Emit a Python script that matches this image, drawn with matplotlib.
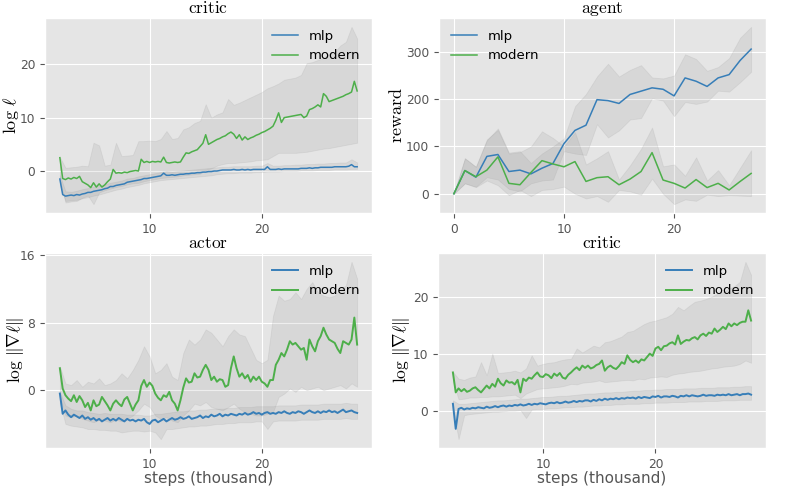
import numpy as np
import matplotlib
matplotlib.use("Agg")
import matplotlib.pyplot as plt

plt.style.use("ggplot")
plt.rcParams["mathtext.fontset"] = "cm"
plt.rcParams["font.family"] = ["DejaVu Sans"]

BLUE = "#377eb8"
GREEN = "#4daf4a"
BAND = "grey"

# ---------------- data ----------------
STEP_FINE = 0.25   # thousand steps between logged points
STEP_BAND = 0.5
X0 = 2.0

# critic loss (log l)
loss_modern = [
    2.5, -1.4, -1.6, -1.3,  -1.5, -1.2, -1.4, -1.0,  -2.0, -2.3, -2.6, -3.1,
    -2.2, -3.0, -2.4, -3.0,  -2.6, -2.0, -1.5, 0.3,  -0.4, -0.3, -0.4, -0.2,
    -0.3, -0.1, 0.0, 0.1,  0.0, 2.2, 1.6, 1.8,  1.6, 1.8, 1.7, 1.8,
    1.7, 2.6, 1.6, 1.5,  1.6, 1.7, 1.6, 1.7,  2.6, 3.4, 3.3, 3.6,
    3.8, 4.0, 4.6, 5.2,  6.8, 5.0, 5.3, 5.6,  5.9, 6.1, 6.4, 6.6,
    7.0, 7.3, 6.9, 6.1,  6.8, 5.8, 6.4, 5.9,  6.2, 6.4, 6.7, 6.9,
    7.2, 7.4, 7.7, 8.0,  8.4, 9.5, 10.9, 9.1,  10.0, 10.1, 10.2, 10.3,
    10.4, 10.5, 10.6, 10.0,  10.3, 11.5, 11.7, 12.0,  12.4, 12.0, 14.5, 14.0,
    13.0, 13.2, 13.4, 13.6,  13.8, 14.0, 14.3, 14.5,  14.8, 16.8, 15.0]
loss_mlp = [
    -1.5, -4.4, -4.7, -4.6,  -4.5, -4.6, -4.4, -4.5,  -4.3, -4.2, -4.0, -4.0,
    -3.8, -3.7, -3.6, -3.5,  -3.3, -3.2, -2.9, -2.9,  -2.7, -2.6, -2.5, -2.4,
    -2.1, -2.0, -1.9, -1.8,  -1.7, -1.6, -1.4, -1.4,  -1.3, -1.2, -1.1, -1.0,
    -0.9, -0.4, -0.8, -0.8,  -0.7, -0.8, -0.7, -0.6,  -0.6, -0.5, -0.5, -0.4,
    -0.4, -0.3, -0.3, -0.2,  -0.2, -0.1, -0.1, 0.0,  0.0, 0.1, 0.2, 0.2,
    0.2, 0.2, 0.3, 0.2,  0.2, 0.3, 0.2, 0.3,  0.2, 0.3, 0.3, 0.3,
    0.3, 0.3, 0.8, 0.3,  0.3, 0.3, 0.4, 0.3,  0.4, 0.4, 0.4, 0.4,
    0.4, 0.4, 0.5, 0.5,  0.5, 0.6, 0.5, 0.6,  0.6, 0.7, 0.7, 0.7,
    0.7, 0.7, 0.8, 0.8,  0.8, 0.8, 0.8, 0.9,  1.2, 0.8, 0.8]
loss_modern_hi = [
    2.6, 0.6, 0.7, 0.8, 1.0, 0.9, 5.3, 4.8, 1.0, 1.2, 5.3, 2.8, 2.9, 3.0,
    5.6, 5.6, 5.7, 5.6, 6.0, 7.5, 6.0, 6.2, 7.8, 8.2, 9.0, 9.4, 12.5, 10.0,
    10.6, 11.0, 13.5, 12.4, 12.8, 13.3, 13.8, 14.3, 14.8, 15.5, 15.9, 16.4,
    17.1, 17.3, 17.5, 18.0, 20.2, 20.4, 20.8, 21.2, 22.0, 22.3, 23.5, 24.2,
    27.0, 24.8]
loss_modern_lo = [
    -1.6, -5.9, -5.7, -5.6, -5.0, -4.6, -6.2, -4.0, -3.6, -3.3, -3.0, -2.8,
    -2.5, -2.3, -2.2, -1.9, -1.7, -1.5, -1.3, -1.2, -1.1, -1.0, -0.8, -0.7,
    -0.6, -0.5, 0.2, 0.5, 1.0, 1.3, 1.5, 1.5, 1.6, 1.7, 1.8, 2.0, 2.1, 2.2,
    2.8, 3.4, 3.4, 3.4, 3.4, 3.5, 3.6, 3.8, 4.0, 4.2, 4.3, 4.5, 4.7, 4.9,
    5.1, 5.3]
loss_mlp_hi = [
    -0.8, -3.8, -3.9, -3.7, -3.4, -3.2, -2.9, -2.8, -2.5, -2.2, -2.0, -1.8,
    -1.4, -1.3, -1.0, -0.8, -0.6, -0.4, -0.2, 0.0, -0.1, 0.0, 0.1, 0.2,
    0.3, 0.4, 0.5, 0.6, 0.7, 0.8, 0.8, 0.9, 0.9, 0.9, 0.9, 1.0, 1.0, 1.5,
    1.0, 1.0, 1.1, 1.1, 1.2, 1.2, 1.3, 1.3, 1.4, 1.4, 1.5, 1.5, 1.6, 1.6,
    2.2, 1.6]
loss_mlp_lo = [
    -2.5, -5.6, -5.5, -5.4, -5.1, -4.9, -4.6, -4.4, -4.1, -3.8, -3.5, -3.3,
    -3.0, -2.8, -2.6, -2.3, -2.1, -1.9, -1.7, -1.6, -1.5, -1.4, -1.3, -1.2,
    -1.1, -1.0, -0.9, -0.8, -0.6, -0.5, -0.4, -0.4, -0.3, -0.3, -0.3, -0.2,
    -0.2, -0.1, -0.1, -0.1, 0.0, 0.0, 0.0, 0.1, 0.1, 0.1, 0.2, 0.2, 0.2,
    0.3, 0.3, 0.3, 0.4, 0.4]

# agent reward
agent_step = list(range(28))
reward_mlp = [0, 49, 35, 79, 83, 47, 50, 42, 54, 64, 106, 134, 145, 199, 197,
              191, 210, 217, 224, 221, 207, 245, 238, 227, 245, 252, 282, 306]
reward_modern = [0, 49, 36, 50, 78, 22, 19, 45, 70, 63, 57, 68, 26, 34, 36,
                 19, 31, 47, 87, 29, 22, 12, 30, 13, 22, 8, 26, 43]
reward_mlp_hi = [0, 75, 57, 113, 138, 87, 90, 65, 85, 100, 117, 185, 211, 248,
                 275, 248, 262, 272, 246, 244, 250, 295, 285, 260, 268, 287,
                 330, 353]
reward_mlp_lo = [0, 22, 15, 35, 30, 10, 5, 22, 28, 30, 90, 85, 82, 147, 119,
                 134, 157, 160, 202, 197, 164, 194, 190, 195, 218, 216, 236,
                 258]
reward_modern_hi = [0, 75, 57, 115, 135, 85, 88, 100, 132, 118, 100, 130, 62,
                    75, 90, 30, 60, 95, 140, 58, 62, 38, 77, 28, 50, 18, 55, 92]
reward_modern_lo = [0, 22, 14, 28, 18, -3, 8, -5, 8, 10, 15, 0, -10, -5, -17,
                    8, 5, -2, 32, 0, -22, -12, -15, -2, -5, -3, -4, -5]

# actor gradient norm (log ||grad l||)
actor_modern = [
    2.6, 0.2, -0.6, -1.0,  -1.3, -0.6, -1.4, -0.7,  -1.2, -2.0, -1.5, -2.4,
    -1.2, -1.9, -1.7, -0.8,  -1.3, -1.8, -2.4, -1.6,  -1.2, -1.6, -1.9, -1.1,
    -0.8, -1.6, -2.4, -1.7,  -1.2, 0.5, 1.2, 0.4,  0.9, 0.5, -0.4, -0.9,
    -1.2, -0.6, -0.8, -0.2,  -1.2, -1.6, -2.4, -1.2,  0.3, 1.4, 0.9, 1.0,
    2.0, 1.5, 1.6, 2.4,  3.0, 2.4, 1.2, 1.6,  1.0, 1.3, 1.2, 0.4,
    0.6, 2.6, 4.0, 2.6,  1.6, 2.0, 1.4, 1.8,  1.0, 1.6, 1.2, 1.6,
    1.0, 0.8, 0.4, 1.2,  1.2, 3.0, 3.6, 4.4,  4.0, 4.8, 5.8, 5.4,
    5.6, 5.2, 4.8, 5.0,  3.6, 6.0, 5.2, 4.6,  5.8, 6.4, 7.4, 6.6,
    6.0, 5.8, 5.6, 4.9,  4.4, 5.8, 5.6, 5.4,  6.0, 8.6, 5.4]
actor_mlp = [
    -0.4, -2.8, -2.4, -2.9,  -3.2, -2.9, -3.1, -3.3,  -3.0, -3.4, -3.2, -3.5,
    -3.3, -3.6, -3.4, -3.7,  -3.5, -3.3, -3.6, -3.4,  -3.6, -3.3, -3.5, -3.7,
    -3.4, -3.6, -3.5, -3.7,  -3.5, -3.6, -3.4, -3.8,  -4.0, -3.6, -3.5, -3.8,
    -3.6, -3.4, -3.7, -3.5,  -3.3, -3.5, -3.4, -3.2,  -3.4, -3.3, -3.1, -3.4,
    -3.3, -3.2, -3.0, -3.3,  -3.1, -3.2, -2.9, -3.1,  -3.0, -2.8, -3.1, -2.9,
    -3.0, -2.8, -2.9, -3.0,  -2.8, -2.9, -2.7, -2.9,  -2.8, -2.6, -2.8, -2.7,
    -2.9, -2.7, -2.6, -2.8,  -2.7, -2.8, -2.6, -2.7,  -2.5, -2.7, -2.8, -2.6,
    -2.7, -2.5, -2.6, -2.8,  -2.6, -2.4, -2.6, -2.7,  -2.5, -2.7, -2.5, -2.6,
    -2.4, -2.6, -2.5, -2.7,  -2.5, -2.3, -2.6, -2.5,  -2.4, -2.6, -2.7]
actor_modern_hi = [
    2.8, 0.8, 0.6, 1.2, 0.4, 1.0, 0.8, 1.4, 0.6, 0.8, 1.2, 2.0, 1.4, 2.4,
    3.6, 5.2, 4.0, 2.0, 2.4, 3.2, 1.6, 1.2, 4.4, 6.0, 5.4, 6.0, 7.2, 6.8,
    6.0, 5.2, 6.4, 7.2, 6.6, 6.4, 5.0, 3.6, 3.2, 3.6, 8.8, 11.2, 10.6, 10.8,
    11.6, 10.8, 12.0, 12.8, 11.6, 11.2, 11.0, 11.2, 12.0, 12.4, 15.2, 13.2]
actor_modern_lo = [
    -0.8, -3.0, -3.2, -3.0, -3.4, -3.6, -3.8, -3.5, -3.6, -3.8, -3.5, -3.7,
    -3.4, -3.0, -2.4, -1.6, -2.0, -3.0, -3.4, -3.2, -3.6, -3.8, -3.0, -2.4,
    -1.6, -1.8, -1.4, -2.0, -2.2, -2.4, -2.0, -1.6, -2.2, -2.6, -2.8, -3.0,
    -3.0, -2.8, -2.6, -0.8, -0.4, 0.2, -0.2, 0.4, 0.0, 0.2, 0.4, 0.0,
    0.2, 0.4, 0.6, 0.2, 0.8, 0.4]
actor_mlp_hi = [
    -0.2, -1.8, -2.2, -2.4, -2.4, -2.6, -2.7, -2.8, -2.7, -2.8, -2.8, -2.8,
    -2.9, -2.9, -2.9, -3.0, -3.0, -2.8, -2.8, -2.7, -2.6, -2.5, -2.5, -2.4,
    -2.4, -2.3, -2.3, -2.2, -2.2, -2.2, -2.1, -2.1, -2.0, -2.0, -2.0, -1.9,
    -1.9, -1.9, -1.9, -1.8, -1.8, -1.8, -1.8, -1.7, -1.7, -1.7, -1.7, -1.6,
    -1.6, -1.6, -1.6, -1.5, -1.6, -1.6]
actor_mlp_lo = [
    -1.5, -4.0, -4.2, -4.3, -4.4, -4.6, -4.6, -4.7, -4.7, -4.8, -4.8, -5.0,
    -4.9, -4.8, -4.8, -4.9, -4.8, -5.0, -5.8, -4.6, -4.6, -4.5, -4.4, -4.3,
    -4.3, -4.2, -4.2, -4.1, -4.0, -4.0, -3.9, -3.9, -3.8, -3.8, -3.8, -3.7,
    -3.7, -4.6, -3.7, -3.6, -3.6, -3.6, -3.6, -3.5, -3.5, -3.5, -3.5, -3.4,
    -3.4, -3.4, -3.4, -3.3, -3.4, -3.4]

# critic gradient norm (log ||grad l||)
cgrad_modern = [
    6.7, 3.2, 3.9, 3.4,  3.8, 3.3, 3.5, 3.9,  4.1, 3.6, 3.2, 3.8,
    4.4, 3.9, 4.7, 4.2,  5.6, 4.8, 4.4, 5.3,  4.9, 5.0, 4.6, 5.4,
    3.2, 5.6, 5.2, 5.8,  5.6, 6.2, 6.7, 6.0,  5.9, 6.4, 6.2, 5.7,
    6.5, 6.1, 6.6, 5.8,  5.6, 6.3, 6.7, 7.2,  7.6, 7.1, 7.9, 7.5,
    7.9, 7.4, 7.6, 8.0,  8.2, 8.8, 7.0, 7.6,  7.9, 7.5, 7.3, 7.8,
    8.5, 8.2, 9.7, 8.9,  8.5, 8.8, 8.4, 9.0,  8.8, 9.4, 10.0, 9.6,
    10.9, 11.2, 10.6, 11.3,  11.4, 11.8, 12.0, 11.6,  13.2, 11.7, 12.1, 12.4,
    12.3, 12.7, 12.9, 12.5,  13.2, 13.5, 13.1, 13.7,  13.5, 14.4, 13.8, 14.2,
    14.7, 14.3, 15.3, 14.8,  15.3, 15.0, 15.4, 15.6,  15.6, 17.6, 15.8]
cgrad_mlp = [
    1.2, -3.2, 0.3, 0.5,  0.2, 0.4, 0.3, 0.5,  0.4, 0.6, 0.5, 0.4,
    0.7, 0.5, 0.6, 0.8,  0.6, 0.8, 0.9, 0.7,  0.9, 0.8, 1.0, 0.9,
    1.1, 0.9, 1.0, 1.2,  1.0, 1.2, 1.1, 1.3,  1.2, 1.1, 1.3, 1.4,
    1.3, 1.5, 1.3, 1.4,  1.6, 1.4, 1.5, 1.7,  1.5, 1.7, 1.6, 1.8,
    1.8, 1.6, 1.9, 1.7,  2.0, 1.8, 2.1, 1.9,  2.1, 2.0, 2.2, 2.0,
    2.2, 2.1, 2.3, 2.2,  2.3, 2.1, 2.4, 2.2,  2.4, 2.3, 2.2, 2.5,
    2.4, 2.6, 2.3, 2.5,  2.5, 2.4, 2.6, 2.5,  2.3, 2.6, 2.5, 2.7,
    2.5, 2.7, 2.6, 2.5,  2.6, 2.8, 2.6, 2.7,  2.7, 2.6, 2.8, 2.7,
    2.8, 2.7, 2.9, 2.7,  2.8, 2.9, 2.7, 2.9,  2.9, 3.0, 2.8]
cgrad_modern_hi = [
    6.8, 5.6, 5.4, 5.8, 6.0, 8.5, 6.2, 10.0, 6.6, 6.7, 6.8, 7.0, 6.7, 7.4,
    9.7, 7.9, 8.2, 8.4, 8.5, 8.8, 9.0, 9.1, 10.9, 10.2, 10.8, 11.4, 11.1,
    12.0, 12.2, 12.6, 13.0, 13.8, 14.0, 14.6, 15.2, 15.6, 15.8, 16.1, 16.4,
    17.0, 18.2, 17.6, 18.4, 19.1, 19.3, 19.6, 20.0, 20.5, 20.8, 21.4, 21.8,
    22.6, 26.1, 23.8]
cgrad_modern_lo = [
    5.2, 2.0, 2.1, 2.3, 2.3, 2.4, 2.4, 2.5, 2.5, 2.6, 2.7, 2.8, 2.2, 3.0,
    3.4, 3.8, 3.9, 4.0, 4.1, 4.2, 4.4, 4.7, 4.6, 4.9, 5.0, 5.1, 5.3, 5.0,
    5.1, 5.2, 5.3, 5.4, 5.3, 5.6, 5.5, 5.8, 5.9, 6.0, 5.9, 6.3, 6.5, 6.6,
    6.8, 6.9, 7.0, 7.2, 7.4, 7.5, 7.7, 7.8, 7.9, 8.2, 8.8, 8.4]
cgrad_mlp_hi = [
    1.8, 1.2, 1.2, 1.3, 1.4, 1.5, 1.6, 1.7, 1.8, 1.8, 1.9, 2.0, 2.1, 2.1,
    2.2, 2.3, 2.4, 2.4, 2.5, 2.6, 2.6, 2.7, 2.8, 2.9, 3.0, 3.0, 3.1, 3.2,
    3.2, 3.3, 3.3, 3.4, 3.5, 3.5, 3.6, 3.6, 3.7, 3.7, 3.8, 3.8, 3.8, 3.9,
    3.9, 3.9, 4.0, 4.0, 4.0, 4.1, 4.1, 4.1, 4.2, 4.2, 4.3, 4.3]
cgrad_mlp_lo = [
    0.5, -5.0, -0.8, -0.6, -0.5, -0.4, -0.3, -0.2, -0.2, -0.1, 0.0, 0.0,
    0.1, -1.3, 0.2, 0.3, 0.3, 0.4, 0.4, 0.5, 0.6, 0.6, 0.7, 0.7, 0.8, 0.9,
    0.9, 1.0, 1.0, 1.1, 1.1, 1.2, 1.2, 1.2, 1.3, 1.3, 1.4, 1.4, 1.4, 1.5,
    1.5, 1.5, 1.6, 1.6, 1.6, 1.7, 1.7, 1.7, 1.8, 1.8, 1.8, 1.9, 1.9, 1.9]

steps_ticks = [10, 20]
agent_ticks = [0, 10, 20]
loss_yticks = [0, 10, 20]
reward_yticks = [0, 100, 200, 300]
actor_yticks = [0, 8, 16]
cgrad_yticks = [0, 10, 20]

# ---------------- figure ----------------
W, H = 789, 486
fig = plt.figure(figsize=(W / 100, H / 100), dpi=100)


def rect(l, t, r, b):
    return [l / W, 1 - b / H, (r - l) / W, (b - t) / H]


ax_tl = fig.add_axes(rect(45, 18, 372, 213))
ax_tr = fig.add_axes(rect(439, 18, 766, 213))
ax_bl = fig.add_axes(rect(45, 253, 372, 448))
ax_br = fig.add_axes(rect(438, 253, 766, 448))

TICK_FS = 8.8
LEG_FS = 9.5


def xs(arr, step):
    return X0 + step * np.arange(len(arr))


def draw_series(ax, mlp, modern, mlp_lo, mlp_hi, mod_lo, mod_hi, lw):
    xf = xs(mlp, STEP_FINE)
    xb = xs(mlp_lo, STEP_BAND)
    ax.fill_between(xb, mod_lo, mod_hi, color=BAND, alpha=0.13, lw=0.6)
    ax.fill_between(xb, mlp_lo, mlp_hi, color=BAND, alpha=0.13, lw=0.6)
    ax.plot(xf, mlp, color=BLUE, lw=lw, label="mlp")
    ax.plot(xs(modern, STEP_FINE), modern, color=GREEN, lw=lw, label="modern")


draw_series(ax_tl, loss_mlp, loss_modern, loss_mlp_lo, loss_mlp_hi,
            loss_modern_lo, loss_modern_hi, 1.1)
draw_series(ax_bl, actor_mlp, actor_modern, actor_mlp_lo, actor_mlp_hi,
            actor_modern_lo, actor_modern_hi, 1.4)
draw_series(ax_br, cgrad_mlp, cgrad_modern, cgrad_mlp_lo, cgrad_mlp_hi,
            cgrad_modern_lo, cgrad_modern_hi, 1.4)

ax_tr.fill_between(agent_step, reward_mlp_lo, reward_mlp_hi, color=BAND,
                   alpha=0.13, lw=0.6)
ax_tr.fill_between(agent_step, reward_modern_lo, reward_modern_hi, color=BAND,
                   alpha=0.13, lw=0.6)
ax_tr.plot(agent_step, reward_mlp, color=BLUE, lw=1.1, label="mlp")
ax_tr.plot(agent_step, reward_modern, color=GREEN, lw=1.1, label="modern")

for ax, xt, yt in [(ax_tl, steps_ticks, loss_yticks),
                   (ax_tr, agent_ticks, reward_yticks),
                   (ax_bl, steps_ticks, actor_yticks),
                   (ax_br, steps_ticks, cgrad_yticks)]:
    ax.set_xticks(xt)
    ax.set_yticks(yt)
    ax.tick_params(labelsize=TICK_FS, colors="#555555")

for ax, t in [(ax_tl, "critic"), (ax_tr, "agent"), (ax_bl, "actor"),
              (ax_br, "critic")]:
    ax.set_title(r"$\mathrm{" + t + "}$", fontsize=12.5, pad=3.5)

ax_tl.set_ylabel(r"$\log\,\ell$", fontsize=13, color="black")
ax_tr.set_ylabel(r"$\mathrm{reward}$", fontsize=13, color="black")
ax_bl.set_ylabel(r"$\log\,\Vert\nabla\ell\Vert$", fontsize=12.5, color="black")
ax_br.set_ylabel(r"$\log\,\Vert\nabla\ell\Vert$", fontsize=12.5, color="black")
ax_tl.yaxis.set_label_coords(-0.073, 0.5)
ax_tr.yaxis.set_label_coords(-0.100, 0.5)
ax_bl.yaxis.set_label_coords(-0.058, 0.5)
ax_br.yaxis.set_label_coords(-0.080, 0.5)

ax_bl.set_xlabel("steps (thousand)", fontsize=11, color="#555555", labelpad=0)
ax_br.set_xlabel("steps (thousand)", fontsize=11, color="#555555", labelpad=0)

ax_tl.legend(loc="upper right", fontsize=LEG_FS, frameon=False)
ax_tr.legend(loc="upper left", fontsize=LEG_FS, frameon=False)
ax_bl.legend(loc="upper right", fontsize=LEG_FS, frameon=False)
ax_br.legend(loc="upper right", fontsize=LEG_FS, frameon=False)

fig.savefig("out.png", dpi=100, facecolor="white")
